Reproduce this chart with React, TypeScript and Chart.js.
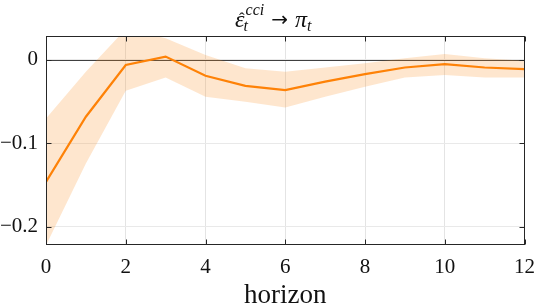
import { useEffect, useRef } from "react";
import { Chart, registerables } from "chart.js";
Chart.register(...registerables);

const horizons = [0, 1, 2, 3, 4, 5, 6, 7, 8, 9, 10, 11, 12];
const response = [-0.146, -0.068, -0.006, 0.004, -0.019, -0.031, -0.036, -0.026, -0.017, -0.009, -0.005, -0.009, -0.011];
const upperBand = [-0.07, -0.014, 0.037, 0.026, 0.006, -0.01, -0.014, -0.009, -0.004, 0.002, 0.007, 0.002, -0.001];
const lowerBand = [-0.222, -0.124, -0.037, -0.021, -0.044, -0.05, -0.057, -0.044, -0.032, -0.021, -0.018, -0.021, -0.021];
const xTicks = [0, 2, 4, 6, 8, 10, 12];
const yTicks = [-0.2, -0.1, 0];
const yTickLabels = ["−0.2", "−0.1", "0"];
const xLabel = "horizon";

const SERIF = "'Liberation Serif', 'DejaVu Serif', serif";
const AXIS = "#262626";

const boxPlugin = {
  id: "boxPlugin",
  beforeDatasetsDraw(chart: any) {
    const { ctx, chartArea: a, scales } = chart;
    const y0 = Math.round(scales.y.getPixelForValue(0)) + 0.5;
    ctx.save();
    ctx.strokeStyle = "#404040";
    ctx.lineWidth = 1;
    ctx.beginPath();
    ctx.moveTo(a.left, y0);
    ctx.lineTo(a.right, y0);
    ctx.stroke();
    ctx.restore();
  },
  afterDraw(chart: any) {
    const { ctx, chartArea: a, scales } = chart;
    ctx.save();
    ctx.strokeStyle = AXIS;
    ctx.lineWidth = 1;
    const L = Math.round(a.left) + 0.5, R = Math.round(a.right) - 0.5;
    const T = Math.round(a.top) + 0.5, B = Math.round(a.bottom) - 0.5;
    ctx.strokeRect(L, T, R - L, B - T);
    const tl = 5;
    ctx.beginPath();
    xTicks.forEach((v) => {
      const x = Math.round(scales.x.getPixelForValue(v)) + 0.5;
      ctx.moveTo(x, B); ctx.lineTo(x, B - tl);
      ctx.moveTo(x, T); ctx.lineTo(x, T + tl);
    });
    yTicks.forEach((v) => {
      const y = Math.round(scales.y.getPixelForValue(v)) + 0.5;
      ctx.moveTo(L, y); ctx.lineTo(L + tl, y);
      ctx.moveTo(R, y); ctx.lineTo(R - tl, y);
    });
    ctx.stroke();

    // title: ε̂_t^{cci} → π_t
    const fBig = `italic 24px ${SERIF}`;
    const fSmall = `italic 16px ${SERIF}`;
    const fArr = `20px 'DejaVu Sans', sans-serif`;
    const fHat = `17px ${SERIF}`;
    ctx.fillStyle = "#111";
    ctx.textBaseline = "alphabetic";
    ctx.textAlign = "left";
    const base = 27;
    ctx.font = fBig; const wE = ctx.measureText("ε").width; const wPi = ctx.measureText("π").width;
    ctx.font = fSmall; const wSup = ctx.measureText("cci").width; const wT = ctx.measureText("t").width;
    ctx.font = fArr; const wArr = ctx.measureText("→").width;
    const gap = 7;
    const total = wE + wSup + 1 + gap + wArr + gap + wPi + wT;
    let x = (a.left + a.right) / 2 - 12 - total / 2;
    ctx.font = fBig; ctx.fillText("ε", x, base);
    ctx.font = fHat; ctx.textAlign = "center"; ctx.fillText("ˆ", x + wE / 2 + 2, base - 3); ctx.textAlign = "left";
    ctx.font = fSmall;
    ctx.fillText("cci", x + wE + 1, base - 12);
    ctx.fillText("t", x + wE - 1, base + 4);
    x += wE + wSup + 1 + gap;
    ctx.font = fArr; ctx.fillText("→", x, base - 1);
    x += wArr + gap;
    ctx.font = fBig; ctx.fillText("π", x, base);
    x += wPi;
    ctx.font = fSmall; ctx.fillText("t", x, base + 4);
    ctx.restore();
  },
};

export default function App() {
  const ref = useRef<HTMLCanvasElement>(null);
  useEffect(() => {
    const pts = (arr: number[]) => horizons.map((h, i) => ({ x: h, y: arr[i] }));
    const chart = new Chart(ref.current!, {
      type: "line",
      data: {
        datasets: [
          { data: pts(lowerBand), borderWidth: 0, pointRadius: 0, fill: false, borderColor: "rgba(0,0,0,0)" },
          { data: pts(upperBand), borderWidth: 0, pointRadius: 0, fill: "-1", backgroundColor: "rgba(252,140,30,0.22)", borderColor: "rgba(0,0,0,0)" },
          { data: pts(response), borderWidth: 2.2, pointRadius: 0, fill: false, borderColor: "#ff7f00", tension: 0 },
        ],
      },
      plugins: [boxPlugin],
      options: {
        animation: false,
        responsive: false,
        events: [],
        layout: { padding: { top: 36, right: 13, left: 0, bottom: 0 } },
        plugins: { legend: { display: false }, tooltip: { enabled: false }, title: { display: false } },
        scales: {
          x: {
            type: "linear",
            min: 0,
            max: 12,
            afterBuildTicks: (s: any) => { s.ticks = xTicks.map((v) => ({ value: v })); },
            afterFit: (s: any) => { s.height = 62; },
            ticks: { font: { family: SERIF, size: 21 }, color: "#111", padding: 10, maxRotation: 0, callback: (v: any) => String(v) },
            grid: { color: "#e4e4e4", drawTicks: false },
            border: { display: false },
            title: { display: true, text: xLabel, font: { family: SERIF, size: 27 }, color: "#111", padding: { top: 0, bottom: -5 } },
          },
          y: {
            type: "linear",
            min: -0.2216,
            max: 0.0287,
            afterBuildTicks: (s: any) => { s.ticks = yTicks.map((v) => ({ value: v })); },
            afterFit: (s: any) => { s.width = 46; },
            ticks: {
              font: { family: SERIF, size: 21 }, color: "#111", padding: 8,
              callback: (v: any) => { const i = yTicks.findIndex((t) => Math.abs(t - v) < 1e-9); return i >= 0 ? yTickLabels[i] : ""; },
            },
            grid: { color: "#e9e9e9", drawTicks: false },
            border: { display: false },
          },
        },
      },
    } as any);
    return () => chart.destroy();
  }, []);
  return (
    <div style={{ position: "absolute", left: 0, top: 0, width: 545, height: 307, background: "#fff" }}>
      <canvas ref={ref} width={545} height={307} />
    </div>
  );
}
